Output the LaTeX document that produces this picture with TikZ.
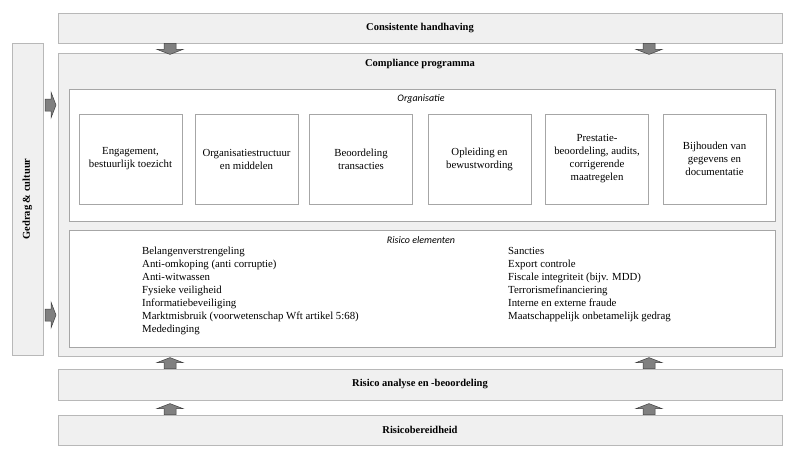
\documentclass[tikz,border=0pt]{standalone}
\usepackage{fontspec}
\setmainfont{Liberation Serif}
\newfontfamily\kopfont{Carlito}
\usetikzlibrary{calc}

\begin{document}
\begin{tikzpicture}[x=1pt, y=-1pt,
  balk/.style={draw=black!28, fill=black!6, line width=0.8pt, inner sep=0pt},
  vlak/.style={draw=black!35, fill=white, line width=0.8pt, inner sep=0pt},
  blok/.style={draw=black!35, fill=white, line width=0.8pt, inner sep=0pt, minimum width=103pt, minimum height=90pt, align=center, font=\fontsize{10.8}{13}\selectfont},
  titel/.style={font=\fontsize{10.5}{12}\selectfont\bfseries},
  kop/.style={inner sep=0pt, font=\fontsize{10}{12}\selectfont\kopfont\itshape},
  lijst/.style={inner sep=0pt, anchor=north west, align=left, font=\fontsize{10.8}{13}\selectfont},
  pijl/.pic={\draw[draw=black!75, fill=black!50, line width=0.5pt, line join=miter] (0,-6) -- (6,-6) -- (6,-13) -- (11,0) -- (6,13) -- (6,6) -- (0,6) -- cycle;}]
\useasboundingbox (0,0) rectangle (800,453);
\node[balk, titel, minimum width=724, minimum height=30] (handhaving) at (420,28) {Consistente handhaving};
\node[balk, minimum width=724, minimum height=303] (compliance) at (420,204.5) {};
\node[titel, inner sep=0pt] (compliancetitel) at (420,64) {Compliance programma};
\node[balk, titel, rotate=90, minimum width=312, minimum height=31] (gedrag) at (27.5,199) {Gedrag \& cultuur};
\node[vlak, minimum width=706, minimum height=132] (organisatie) at (422,155) {};
\node[kop] (organisatietitel) at (421,99) {Organisatie};
\node[blok] (engagement) at (130.5,159) {Engagement,\\bestuurlijk toezicht};
\node[blok] (structuur) at (246.5,159) {Organisatiestructuur\\en middelen};
\node[blok] (transacties) at (361,159) {Beoordeling\\transacties};
\node[blok] (opleiding) at (479.5,159) {Opleiding en\\bewustwording};
\node[blok] (prestatie) at (597,159) {Prestatie-\\beoordeling, audits,\\corrigerende\\maatregelen};
\node[blok] (gegevens) at (714.5,159) {Bijhouden van\\gegevens en\\documentatie};
\node[vlak, minimum width=706, minimum height=117] (risico) at (422,288.5) {};
\node[kop] (risicotitel) at (421,240) {Risico elementen};
\node[lijst] (lijstlinks) at (142,247) {Belangenverstrengeling\\Anti-omkoping (anti corruptie)\\Anti-witwassen\\Fysieke veiligheid\\Informatiebeveiliging\\Marktmisbruik (voorwetenschap Wft artikel 5:68)\\Mededinging};
\node[lijst] (lijstrechts) at (508,247) {Sancties\\Export controle\\Fiscale integriteit (bijv. MDD)\\Terrorismefinanciering\\Interne en externe fraude\\Maatschappelijk onbetamelijk gedrag};
\node[balk, titel, minimum width=724, minimum height=31] (analyse) at (420,384.5) {Risico analyse en -beoordeling};
\node[balk, titel, minimum width=724, minimum height=30] (bereidheid) at (420,430) {Risicobereidheid};
\coordinate (links) at (170,0);
\coordinate (rechts) at (649,0);
\coordinate (boven) at (45,105);
\coordinate (onder) at (45,315);
\pic[rotate=-90] at (handhaving.south -| links) {pijl};
\pic[rotate=-90] at (handhaving.south -| rechts) {pijl};
\pic[rotate=90] at (analyse.north -| links) {pijl};
\pic[rotate=90] at (analyse.north -| rechts) {pijl};
\pic[rotate=90] at (bereidheid.north -| links) {pijl};
\pic[rotate=90] at (bereidheid.north -| rechts) {pijl};
\pic at (boven) {pijl};
\pic at (onder) {pijl};
\end{tikzpicture}
\end{document}
